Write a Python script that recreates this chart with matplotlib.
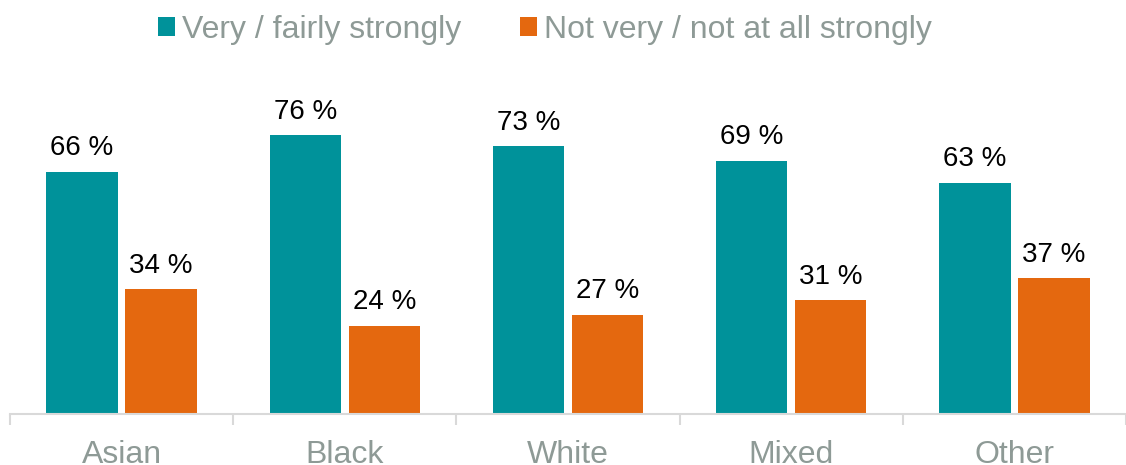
import matplotlib
matplotlib.use("Agg")
import matplotlib.pyplot as plt
from matplotlib.patches import Patch
import numpy as np

plt.rcParams['font.family'] = ['Liberation Sans', 'DejaVu Sans']

categories = ["Asian", "Black", "White", "Mixed", "Other"]
series_names = ["Very / fairly strongly", "Not very / not at all strongly"]
strongly = [66, 76, 73, 69, 63]
not_strongly = [34, 24, 27, 31, 37]

teal = "#00929A"
orange = "#E4680F"
gray_text = "#8E9A96"
axis_gray = "#D9D9D9"

fig = plt.figure(figsize=(11.26, 4.65), dpi=100)
ax = fig.add_axes([10 / 1126, 51 / 465, 1116 / 1126, 334 / 465])

x = np.arange(len(categories))
w = 0.32
off = 0.177
b1 = ax.bar(x - off, strongly, width=w, color=teal, edgecolor="none")
b2 = ax.bar(x + off, not_strongly, width=w, color=orange, edgecolor="none")

for bars, vals in ((b1, strongly), (b2, not_strongly)):
    for rect, v in zip(bars, vals):
        ax.annotate(f"{v} %", (rect.get_x() + rect.get_width() / 2, v),
                    xytext=(0, 12), textcoords="offset points",
                    ha="center", va="baseline", fontsize=20, color="#000000")

ax.set_xlim(-0.5, len(categories) - 0.5)
ax.set_ylim(0, 91.1)

for s in ("top", "right", "left"):
    ax.spines[s].set_visible(False)
ax.spines["bottom"].set_color(axis_gray)
ax.spines["bottom"].set_linewidth(1.5)
ax.set_yticks([])

ax.set_xticks(np.arange(len(categories) + 1) - 0.5)
ax.set_xticklabels([])
ax.tick_params(axis="x", which="major", length=8, width=1.5, color=axis_gray)
ax.set_xticks(x, minor=True)
ax.set_xticklabels(categories, minor=True)
ax.tick_params(axis="x", which="minor", length=0, pad=19, labelsize=23,
               labelcolor=gray_text)

handles = [Patch(facecolor=teal, edgecolor="none"),
           Patch(facecolor=orange, edgecolor="none")]
leg = fig.legend(handles, series_names, loc="center left",
                 bbox_to_anchor=(158 / 1126, 1 - 30 / 465), ncol=2,
                 frameon=False, fontsize=23, handlelength=0.53,
                 handleheight=0.53, handletextpad=0.22, columnspacing=1.84,
                 borderpad=0, borderaxespad=0)
for t in leg.get_texts():
    t.set_color(gray_text)

fig.savefig("out.png", dpi=100)
